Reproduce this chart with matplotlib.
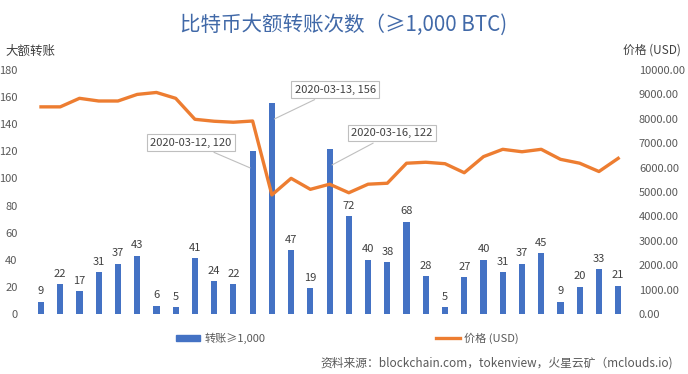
import matplotlib.pyplot as plt
import numpy as np
from matplotlib.patches import Rectangle
from matplotlib.lines import Line2D

plt.rcParams['font.family'] = ['Noto Sans CJK SC', 'DejaVu Sans']

# 2020-03-01 .. 2020-03-31
dates = ["2020-03-%02d" % d for d in range(1, 32)]
transfers = [9, 22, 17, 31, 37, 43, 6, 5, 41, 24, 22, 120, 156, 47, 19, 122,
             72, 40, 38, 68, 28, 5, 27, 40, 31, 37, 45, 9, 20, 33, 21]
price = [8490, 8490, 8840, 8730, 8730, 9000, 9080, 8840, 7980, 7900, 7860,
         7910, 4880, 5560, 5110, 5320, 4970, 5320, 5360, 6180, 6220, 6160,
         5790, 6450, 6750, 6650, 6750, 6340, 6180, 5840, 6380]
callouts = [11, 12, 15]

blue = '#4472C4'
orange = '#ED7D31'
grey = '#595959'

fig = plt.figure(figsize=(6.88, 3.74), dpi=100)
ax = fig.add_axes([0.0456, 0.1604, 0.8669, 0.6524])
ax2 = ax.twinx()

x = np.arange(len(dates))
ax.bar(x, transfers, width=0.32, color=blue, zorder=2)
ax2.plot(x, price, color=orange, lw=2.4, zorder=3)

ax.set_xlim(-0.5, len(dates) - 0.5)
ax.set_ylim(0, 180)
ax.set_yticks(range(0, 181, 20))
ax2.set_ylim(0, 10000)
ax2.set_yticks(range(0, 10001, 1000))
ax2.set_yticklabels(["%.2f" % v for v in range(0, 10001, 1000)])
ax.set_xticks([])

for a in (ax, ax2):
    for s in a.spines.values():
        s.set_visible(False)
    a.tick_params(length=0, labelsize=8, labelcolor=grey)
ax.tick_params(axis='y', pad=10)
ax2.tick_params(axis='y', pad=8)

for i, v in enumerate(transfers):
    if i in callouts:
        continue
    ax.text(i, v + 4, str(v), ha='center', va='bottom', fontsize=8, color='#404040')

box_pos = {11: (7.8, 126.5), 12: (15.3, 165.5), 15: (18.25, 133.5)}
for i in callouts:
    ax.annotate("%s, %d" % (dates[i], transfers[i]), xy=(i, transfers[i] - 13),
                xytext=box_pos[i], ha='center', va='center', fontsize=8, color='#404040',
                bbox=dict(boxstyle='square,pad=0.3', fc='white', ec='#BFBFBF', lw=0.8),
                arrowprops=dict(arrowstyle='-', color='#BFBFBF', lw=0.8), zorder=5)

fig.text(0.5, 0.935, "比特币大额转账次数（≥1,000 BTC)", ha='center', va='center',
         fontsize=14.8, color='#4169A8')
fig.text(0.008, 0.864, "大额转账", ha='left', va='center', fontsize=9,
         fontweight='medium', color='#404040')
fig.text(0.989, 0.866, "价格 (USD)", ha='right', va='center', fontsize=8.5,
         fontweight='medium', color='#404040')

# legend
fig.patches.append(Rectangle((0.256, 0.089), 0.035, 0.014, transform=fig.transFigure,
                             color=blue, figure=fig))
fig.text(0.298, 0.096, "转账≥1,000", ha='left', va='center', fontsize=8, color=grey)
fig.lines.append(Line2D([0.633, 0.668], [0.096, 0.096], transform=fig.transFigure,
                        color=orange, lw=2.4, figure=fig))
fig.text(0.674, 0.096, "价格 (USD)", ha='left', va='center', fontsize=8, color=grey)

fig.text(0.978, 0.03, "资料来源：blockchain.com，tokenview，火星云矿（mclouds.io)",
         ha='right', va='center', fontsize=8.5, color=grey)

fig.savefig("out.png", dpi=100)
